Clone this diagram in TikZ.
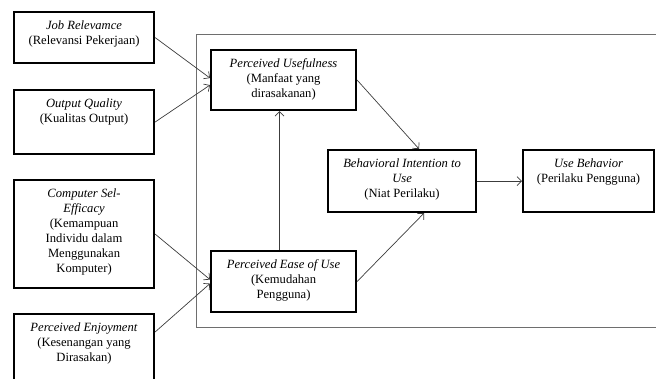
\documentclass[tikz,border=0pt]{standalone}
\usepackage{fontspec}
\setmainfont{Liberation Serif}
\usetikzlibrary{arrows.meta}
\definecolor{garis}{HTML}{3C3C3C}
\definecolor{bingkai}{HTML}{6E6E6E}
\newcommand{\isikotak}[3]{\parbox[c][#2][t]{#1}{\centering\vspace*{9pt}#3}}

\begin{document}
\begin{tikzpicture}[x=1pt,y=-1pt,
  kotak/.style={draw,line width=2.1pt,inner sep=0pt,anchor=north west,font=\fontsize{12.6}{15}\selectfont},
  panah/.style={draw=garis,line width=0.7pt,-{Straight Barb[length=4.5pt,width=9pt]}}]
\useasboundingbox (0,0) rectangle (656,379);
\clip (0,0) rectangle (656,379);
% bingkai model
\draw[bingkai,line width=0.9pt] (670,34) -| (196,327) -- (670,327);
% variabel eksternal
\node[kotak] (jr) at (13,11) {\isikotak{140pt}{51pt}{\textit{Job Relevamce}\\(Relevansi Pekerjaan)}};
\node[kotak] (oq) at (13,89) {\isikotak{140pt}{64pt}{\textit{Output Quality}\\(Kualitas Output)}};
\node[kotak] (cse) at (13,179) {\isikotak{140pt}{108pt}{\textit{Computer Sel-}\\\textit{Efficacy}\\(Kemampuan\\Individu dalam\\Menggunakan\\Komputer)}};
\node[kotak] (pe) at (13,313) {\isikotak{140pt}{80pt}{\textit{Perceived Enjoyment}\\(Kesenangan yang\\Dirasakan)}};
% TAM
\node[kotak] (pu) at (210,49) {\isikotak{145pt}{60pt}{\textit{Perceived Usefulness}\\(Manfaat yang\\dirasakanan)}};
\node[kotak] (peou) at (210,250) {\isikotak{145pt}{61pt}{\textit{Perceived Ease of Use}\\(Kemudahan\\Pengguna)}};
\node[kotak] (bi) at (327,149) {\isikotak{148pt}{62pt}{\textit{Behavioral Intention to}\\\textit{Use}\\(Niat Perilaku)}};
\node[kotak] (ub) at (522,149) {\isikotak{131pt}{62pt}{\textit{Use Behavior}\\(Perilaku Pengguna)}};
% hubungan
\draw[panah] (jr.east) -- ([yshift=2pt]pu.west);
\draw[panah] (oq.east) -- ([yshift=-5pt]pu.west);
\draw[panah] (cse.east) -- ([yshift=2pt]peou.west);
\draw[panah] ([yshift=-19pt]pe.north east) -- ([yshift=-2pt]peou.west);
\draw[panah] ([xshift=-4pt]peou.north) -- ([xshift=-4pt]pu.south);
\draw[panah] (pu.east) -- ([xshift=17pt]bi.north);
\draw[panah] (peou.east) -- ([xshift=22pt]bi.south);
\draw[panah] (bi.east) -- (ub.west);
\end{tikzpicture}
\end{document}
